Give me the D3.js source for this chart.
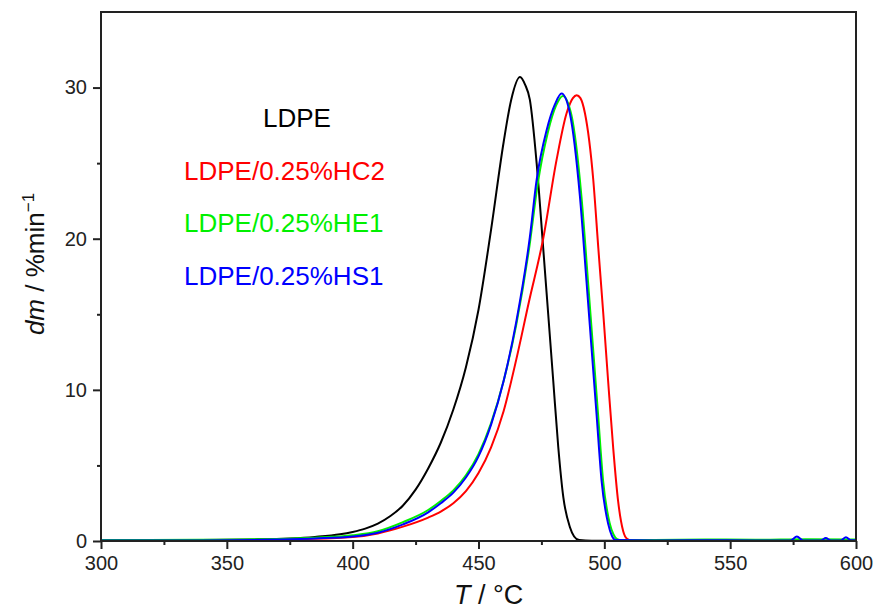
<!DOCTYPE html>
<html>
<head>
<meta charset="utf-8">
<script src="https://cdn.jsdelivr.net/npm/d3@7"></script>
<style>
  body { margin: 0; background: #fff; }
  text { font-family: "Liberation Sans", Arial, sans-serif; }
</style>
</head>
<body>
<div id="chart"></div>
<script>
// temperatures (°C) and dm (%/min)
const tLDPE = [300, 320, 340, 360, 375, 385, 395, 400, 405, 410, 415, 420, 425, 430, 435, 440, 445, 450, 455, 460, 463, 466.5, 468.5, 470.4, 473.1, 475.7, 477.7, 479.7, 481.7, 483.7, 486.3, 488, 490, 495, 600];
const vLDPE = [0.03, 0.04, 0.06, 0.1, 0.17, 0.27, 0.44, 0.6, 0.82, 1.15, 1.65, 2.35, 3.4, 4.8, 6.5, 8.7, 11.5, 15.3, 20.6, 26.4, 29.2, 30.7, 30.2, 29.2, 25.0, 19.4, 15.0, 10.6, 6.2, 2.9, 0.93, 0.3, 0.06, 0.02, 0.02];

const tHC2 = [300, 350, 380, 400, 410, 420, 430, 435, 440, 445, 450, 455, 460, 465, 470, 475.7, 481, 485, 487.5, 489, 490.5, 492.3, 495.6, 497.6, 499.6, 501.5, 503.5, 505.5, 507.5, 509, 511, 600];
const vHC2 = [0.02, 0.04, 0.12, 0.26, 0.5, 0.95, 1.55, 1.95, 2.5, 3.3, 4.5, 6.2, 8.6, 12.0, 15.8, 20.0, 25.2, 28.3, 29.3, 29.5, 29.3, 28.3, 23.9, 19.4, 15.0, 10.6, 6.2, 2.6, 0.65, 0.15, 0.02, 0.02];

const tHE1 = [300, 340, 370, 385, 400, 410, 420, 430, 435, 440, 445, 450, 455, 460, 465, 470.4, 473.5, 477.5, 480.8, 483.5, 486.9, 490.9, 493.5, 495.5, 497.5, 499.5, 502.1, 503.6, 505.1, 507, 520, 540, 560, 580, 600];
const vHE1 = [0.07, 0.08, 0.14, 0.22, 0.38, 0.65, 1.25, 2.05, 2.65, 3.35, 4.35, 5.75, 7.8, 10.6, 14.3, 19.7, 23.6, 27.0, 28.8, 29.45, 28.2, 22.8, 17.2, 12.8, 8.4, 4.0, 1.2, 0.45, 0.12, 0.06, 0.07, 0.1, 0.08, 0.12, 0.1];

const tHS1 = [300, 340, 370, 385, 400, 410, 420, 430, 435, 440, 445, 450, 455, 460, 465, 470.4, 473.1, 477.1, 480.4, 483, 486.3, 490.3, 492.9, 494.9, 496.9, 498.9, 501.5, 503, 504.5, 520, 540, 560, 574, 576.5, 579, 586, 588, 590, 594, 596, 598, 600];
const vHS1 = [0.03, 0.04, 0.1, 0.17, 0.3, 0.55, 1.1, 1.9, 2.5, 3.2, 4.2, 5.6, 7.7, 10.6, 14.5, 20.1, 23.9, 27.2, 28.9, 29.6, 28.3, 22.8, 17.2, 12.8, 8.4, 4.0, 1.15, 0.35, 0.06, 0.04, 0.05, 0.03, 0.04, 0.3, 0.04, 0.03, 0.2, 0.04, 0.04, 0.25, 0.05, 0.05];

const seriesNames = ["LDPE", "LDPE/0.25%HC2", "LDPE/0.25%HE1", "LDPE/0.25%HS1"];
const seriesColors = ["#000000", "#ff0000", "#00f000", "#0000ff"];

const xMajor = [300, 350, 400, 450, 500, 550, 600];
const xMinor = [325, 375, 425, 475, 525, 575];
const yMajor = [0, 10, 20, 30];
const yMinor = [5, 15, 25];

const width = 877;
const height = 610;
const margin = { top: 12, right: 21, bottom: 69, left: 101 };

const svg = d3
  .select("#chart")
  .append("svg")
  .attr("width", width)
  .attr("height", height);

const x = d3.scaleLinear().domain([300, 600]).range([margin.left, width - margin.right]);
const y = d3.scaleLinear().domain([0, 35]).range([height - margin.bottom, margin.top]);

// curves
const series = [
  [tLDPE, vLDPE],
  [tHC2, vHC2],
  [tHE1, vHE1],
  [tHS1, vHS1],
];
const line = d3
  .line()
  .x((d) => x(d[0]))
  .y((d) => y(d[1]))
  .curve(d3.curveMonotoneX);

const plot = svg.append("g");
series.forEach(([ts, vs], i) => {
  plot
    .append("path")
    .datum(ts.map((t, j) => [t, vs[j]]))
    .attr("d", line)
    .attr("fill", "none")
    .attr("stroke", seriesColors[i])
    .attr("stroke-width", 2)
    .attr("stroke-linejoin", "round");
});

// axes
svg
  .append("g")
  .attr("transform", `translate(0, ${y(0)})`)
  .call(d3.axisBottom(x).tickValues(xMajor).tickSize(8).tickPadding(7).tickFormat(d3.format("d")));
svg
  .append("g")
  .attr("transform", `translate(0, ${y(0)})`)
  .call(d3.axisBottom(x).tickValues(xMinor).tickSize(4).tickFormat(""));
svg
  .append("g")
  .attr("transform", `translate(${x(300)}, 0)`)
  .call(d3.axisLeft(y).tickValues(yMajor).tickSize(8).tickPadding(6));
svg
  .append("g")
  .attr("transform", `translate(${x(300)}, 0)`)
  .call(d3.axisLeft(y).tickValues(yMinor).tickSize(4).tickFormat(""));

svg.selectAll(".domain").remove();
svg.selectAll(".tick line").attr("stroke", "#222").attr("stroke-width", 2);
svg.selectAll(".tick text").attr("fill", "#222").style("font-size", "20px");

// frame
svg
  .append("rect")
  .attr("x", x(300))
  .attr("y", y(35))
  .attr("width", x(600) - x(300))
  .attr("height", y(0) - y(35))
  .attr("fill", "none")
  .attr("stroke", "#222")
  .attr("stroke-width", 2);

// axis titles
const xt = svg
  .append("text")
  .attr("x", 454)
  .attr("y", 604)
  .attr("fill", "#111")
  .style("font-size", "27px");
xt.append("tspan").style("font-style", "italic").text("T");
xt.append("tspan").text(" / °C");

const yt = svg
  .append("text")
  .attr("transform", "translate(44, 264) rotate(-90)")
  .attr("text-anchor", "middle")
  .attr("fill", "#111")
  .style("font-size", "26px");
yt.append("tspan").style("font-style", "italic").text("dm");
yt.append("tspan").text(" / %min");
yt.append("tspan").attr("dy", -10).style("font-size", "17px").text("−1");

// labels inside plot
const labelX = [263, 184, 184, 184];
const labelY = [127, 180, 232, 285];
seriesNames.forEach((name, i) => {
  svg
    .append("text")
    .attr("x", labelX[i])
    .attr("y", labelY[i])
    .attr("fill", seriesColors[i])
    .style("font-size", "26px")
    .text(name);
});
</script>
</body>
</html>
